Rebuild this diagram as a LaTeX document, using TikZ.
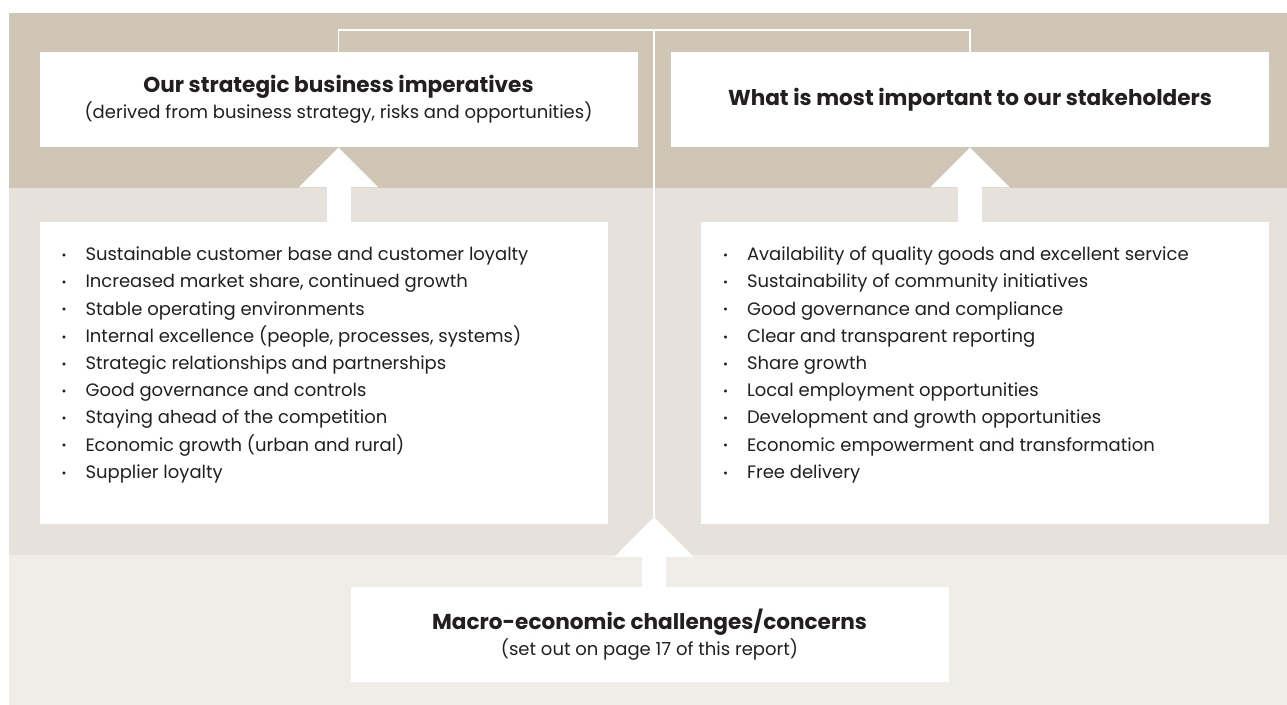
\documentclass[tikz,border=0pt]{standalone}
\usepackage{fontspec}
\setmainfont{Poppins}
\usetikzlibrary{arrows.meta, positioning}

\definecolor{bandtop}{HTML}{CFC6B6}
\definecolor{bandmid}{HTML}{E6E1DA}
\definecolor{bandlow}{HTML}{F0EDE8}
\definecolor{ink}{HTML}{231F20}

\newcommand{\listdot}{\makebox[12pt][l]{\raisebox{0.6pt}{\fontsize{6}{6}\selectfont\textbullet}}}
\newcommand{\headline}[1]{{\bfseries\fontsize{10.8}{12.5}\selectfont #1}}

\begin{document}
\begin{tikzpicture}[x=0.5pt, y=-0.5pt]
\tikzstyle{headbox} = [rectangle, minimum width=299pt, minimum height=47.5pt, fill=white, align=center, text=ink, font=\fontsize{9}{12.5}\selectfont]
\tikzstyle{listbox} = [rectangle, minimum width=284pt, minimum height=151pt, fill=white]
\tikzstyle{listtext} = [anchor=north west, align=left, inner sep=0pt, text=ink, font=\fontsize{9}{13.6}\selectfont]
\tikzstyle{link} = [white, line width=0.6pt]
\tikzstyle{fatarrow} = [white, line width=12pt, -{Triangle[width=38.5pt, length=20pt]}]

\useasboundingbox (0,0) rectangle (1287,705);

% background bands
\fill[bandtop] (9,13) rectangle (1287,188);
\fill[bandmid] (9,188) rectangle (1287,555);
\fill[bandlow] (9,555) rectangle (1287,705);

% heading boxes
\node (impbox) [headbox] at (338.5,99.5) {\headline{Our strategic business imperatives}\\[0.5pt](derived from business strategy, risks and opportunities)};
\node (stakebox) [headbox] at (970,99.5) {\headline{What is most important to our stakeholders}};
\node (macrobox) [headbox] at (649.5,634.5) {\headline{Macro-economic challenges/concerns}\\[0.5pt](set out on page 17 of this report)};

% lists
\node (implist) [listbox] at (323.5,373) {};
\node (stakelist) [listbox] at (985,373) {};

\node (implines) [listtext] at ([xshift=11pt, yshift=-12.5pt]implist.north west) {%
\listdot Sustainable customer base and customer loyalty\\
\listdot Increased market share, continued growth\\
\listdot Stable operating environments\\
\listdot Internal excellence (people, processes, systems)\\
\listdot Strategic relationships and partnerships\\
\listdot Good governance and controls\\
\listdot Staying ahead of the competition\\
\listdot Economic growth (urban and rural)\\
\listdot Supplier loyalty};

\node (stakelines) [listtext] at ([xshift=11pt, yshift=-12.5pt]stakelist.north west) {%
\listdot Availability of quality goods and excellent service\\
\listdot Sustainability of community initiatives\\
\listdot Good governance and compliance\\
\listdot Clear and transparent reporting\\
\listdot Share growth\\
\listdot Local employment opportunities\\
\listdot Development and growth opportunities\\
\listdot Economic empowerment and transformation\\
\listdot Free delivery};

% white feed lines
\coordinate (tip) at (654,517);
\coordinate (hub) at (654,30);
\draw [link] (tip) -- (hub);
\draw [link] (impbox.north) |- (hub) -| (stakebox.north);

% upward arrows
\draw [fatarrow] (impbox.south |- implist.north) -- (impbox.south);
\draw [fatarrow] (stakebox.south |- stakelist.north) -- (stakebox.south);
\draw [fatarrow] (tip |- macrobox.north) -- (tip);

\end{tikzpicture}
\end{document}
